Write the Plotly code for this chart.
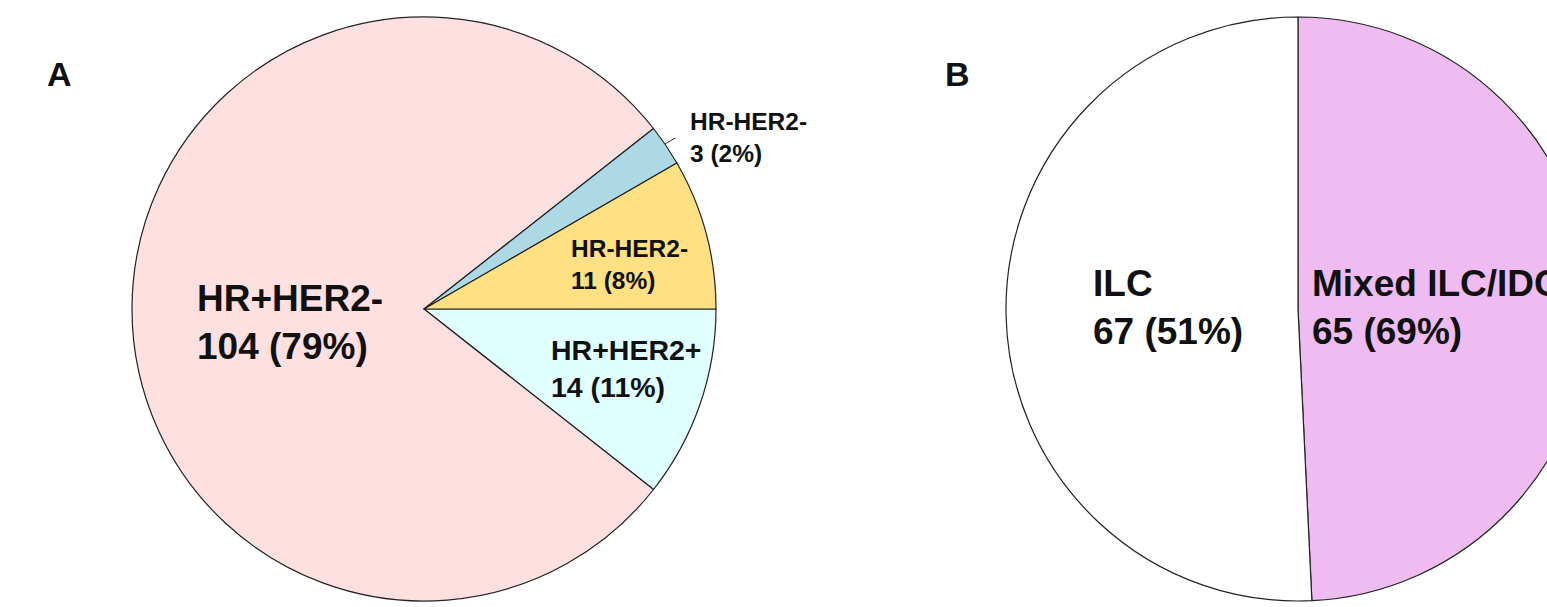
import plotly.graph_objects as go

# Panel A data (clockwise from 3 o'clock)
a_labels = ["HR+HER2+", "HR+HER2-", "HR-HER2- (3)", "HR-HER2- (11)"]
a_values = [14, 104, 3, 11]
a_colors = ["#E0FFFF", "#FFE0E0", "#ADD8E6", "#FFE082"]
a_text = ["HR+HER2+<br>14 (11%)", "HR+HER2-<br>104 (79%)", "HR-HER2-<br>3 (2%)", "HR-HER2-<br>11 (8%)"]

# Panel B data (clockwise from 12 o'clock)
b_labels = ["Mixed ILC/IDC", "ILC"]
b_values = [65, 67]
b_colors = ["#EEBCF0", "#FFFFFF"]
b_text = ["Mixed ILC/IDC<br>65 (69%)", "ILC<br>67 (51%)"]

W, H = 1590, 607
FONT = "Liberation Sans, Arial, sans-serif"

def px_x(x):
    return x / W

def px_y(y):
    return 1 - y / H

R = 292
ca = (424, 309)
cb = (1298, 309)

fig = go.Figure()
fig.add_trace(go.Pie(
    labels=a_labels, values=a_values, sort=False, direction="clockwise",
    rotation=90, textinfo="none", hoverinfo="label+value+percent",
    marker=dict(colors=a_colors, line=dict(color="#222222", width=1.2)),
    domain=dict(x=[px_x(ca[0] - R), px_x(ca[0] + R)], y=[px_y(ca[1] + R), px_y(ca[1] - R)]),
    showlegend=False,
))
fig.add_trace(go.Pie(
    labels=b_labels, values=b_values, sort=False, direction="clockwise",
    rotation=0, textinfo="none", hoverinfo="label+value+percent",
    marker=dict(colors=b_colors, line=dict(color="#222222", width=1.2)),
    domain=dict(x=[px_x(cb[0] - R), px_x(cb[0] + R)], y=[px_y(cb[1] + R), px_y(cb[1] - R)]),
    showlegend=False,
))

def lab(x, y, text, size, **kw):
    fig.add_annotation(x=px_x(x), y=px_y(y), xref="paper", yref="paper", text=text,
                       xanchor="left", yanchor="middle", align="left", showarrow=False,
                       font=dict(family=FONT, size=size, color="#111111"), **kw)

lab(195, 322, "<b>" + a_text[1] + "</b>", 37)
lab(549, 368, "<b>" + a_text[0] + "</b>", 28.5)
lab(569, 264, "<b>" + a_text[3] + "</b>", 24.5)
lab(688, 137, "<b>" + a_text[2] + "</b>", 24.5)
lab(1091, 307, "<b>" + b_text[1] + "</b>", 37)
lab(1310, 307, "<b>" + b_text[0] + "</b>", 37)

# leader line for small slice
fig.add_annotation(x=px_x(665), y=px_y(144), xref="paper", yref="paper", text="",
                   ax=12, ay=-7, axref="pixel", ayref="pixel",
                   showarrow=True, arrowhead=0, arrowwidth=1, arrowcolor="#333333")

lab(45, 74, "<b>A</b>", 34)
lab(943, 74, "<b>B</b>", 34)

fig.update_layout(width=W, height=H, margin=dict(l=0, r=0, t=0, b=0),
                  paper_bgcolor="white", plot_bgcolor="white", font=dict(family=FONT))

fig.write_html("out.html", config={"displayModeBar": False},
               post_script="document.body.style.margin='0';document.body.style.overflow='hidden';")
